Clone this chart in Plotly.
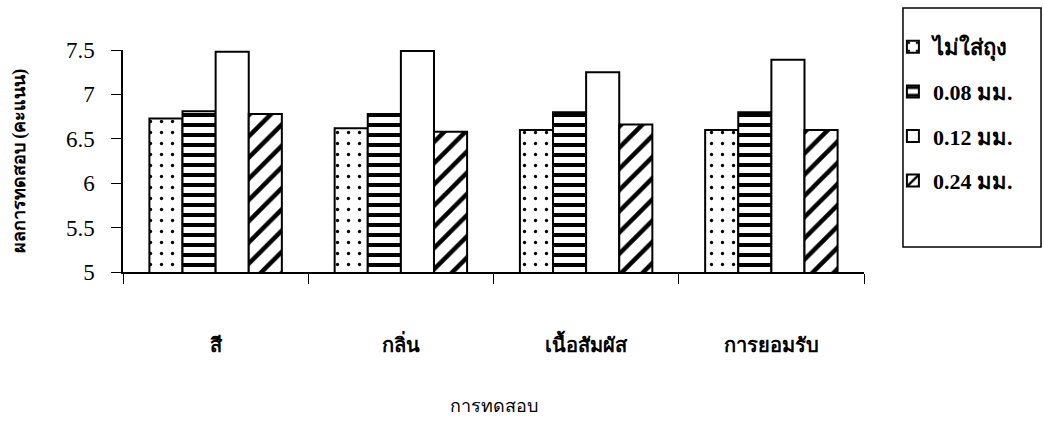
import plotly.graph_objects as go

# Sensory test categories and mean scores per packaging thickness
categories = ["สี", "กลิ่น", "เนื้อสัมผัส", "การยอมรับ"]
series_names = ["ไม่ใส่ถุง", "0.08 มม.", "0.12 มม.", "0.24 มม."]
no_bag = [6.73, 6.62, 6.60, 6.60]
mm_008 = [6.81, 6.78, 6.80, 6.80]
mm_012 = [7.48, 7.49, 7.25, 7.39]
mm_024 = [6.78, 6.58, 6.66, 6.60]
y_ticks = [5, 5.5, 6, 6.5, 7, 7.5]

values = [no_bag, mm_008, mm_012, mm_024]
patterns = [
    dict(shape=".", size=11, solidity=0.07),
    dict(shape="-", size=10, solidity=0.4),
    dict(shape="", size=10, solidity=0.3),
    dict(shape="/", size=15, solidity=0.3),
]

serif = "Liberation Serif, Times New Roman, serif"

fig = go.Figure()
for i, (name, vals, pat) in enumerate(zip(series_names, values, patterns)):
    fig.add_trace(go.Bar(
        x=categories,
        y=vals,
        name=name,
        legendgroup=f"g{i}",
        marker=dict(
            color="white",
            line=dict(color="black", width=2),
            pattern=dict(fgcolor="black", bgcolor="white", fgopacity=1, **pat),
        ),
    ))

# Frame around the legend, taller than the entries themselves
fig.add_shape(
    type="rect", xref="paper", yref="paper",
    x0=1.0526, x1=1.2389, y0=0.1126, y1=1.189,
    line=dict(color="black", width=1.5),
    fillcolor="rgba(0,0,0,0)",
)

fig.update_layout(
    width=1044,
    height=422,
    margin=dict(l=123, r=180, t=50, b=150, autoexpand=False),
    paper_bgcolor="white",
    plot_bgcolor="white",
    barmode="group",
    bargap=0.285,
    bargroupgap=0,
    font=dict(family=serif, color="black"),
    legend=dict(
        x=1.039, xanchor="left",
        y=1.108, yanchor="top",
        borderwidth=0,
        bgcolor="rgba(0,0,0,0)",
        font=dict(family=serif, size=22, color="black", weight="bold"),
        tracegroupgap=13,
        itemwidth=30,
    ),
    xaxis=dict(
        showline=True, linecolor="black", linewidth=1.5,
        ticks="outside", tickson="boundaries", ticklen=10, tickcolor="black",
        tickfont=dict(size=20, weight="bold"),
        ticklabelstandoff=54,
        title=dict(text="การทดสอบ", font=dict(size=18), standoff=45),
        showgrid=False, automargin=False,
    ),
    yaxis=dict(
        range=[5, 7.5],
        tickvals=y_ticks,
        ticktext=[f"{v:g}" for v in y_ticks],
        showline=True, linecolor="black", linewidth=1.5,
        ticks="outside", ticklen=10, tickcolor="black",
        tickfont=dict(size=23),
        ticklabelstandoff=12,
        title=dict(text="ผลการทดสอบ (คะแนน)", font=dict(size=18, weight="bold"), standoff=36),
        showgrid=False, zeroline=False, automargin=False,
    ),
)

fig.write_html("out.html")
